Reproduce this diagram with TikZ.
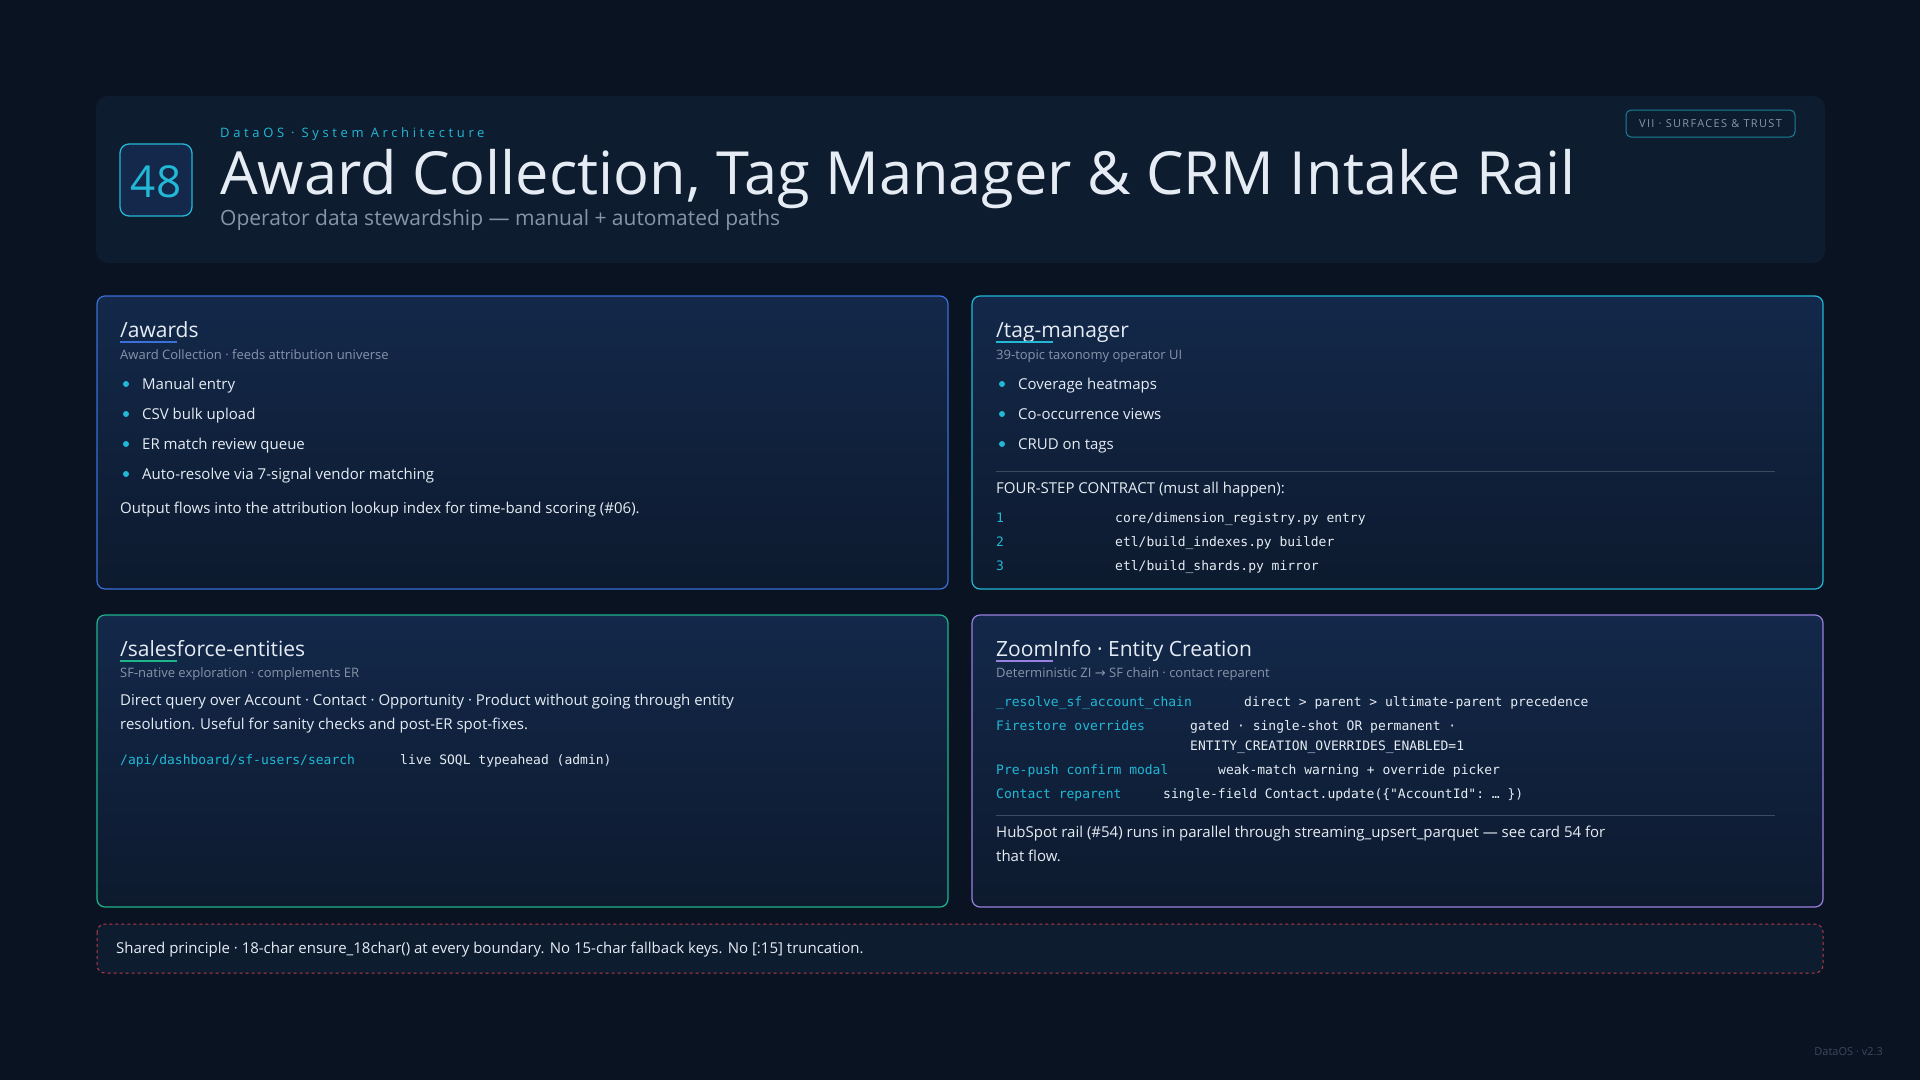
\documentclass[tikz,border=0pt]{standalone}
\usepackage{fontspec}
\setmainfont{Open Sans}
\setmonofont{DejaVu Sans Mono}
\newfontfamily\spaced[LetterSpace=28]{Open Sans}
\newfontfamily\spacedb[LetterSpace=12]{Open Sans}
\newfontfamily\djvsym{DejaVu Sans}
\usetikzlibrary{shadings}
\definecolor{bg}{HTML}{0A1322}
\definecolor{panel}{HTML}{0E1C30}
\definecolor{cardtop}{HTML}{13284A}
\definecolor{cardbot}{HTML}{0D1A2E}
\definecolor{cyanA}{HTML}{22B8D6}
\definecolor{blueB}{HTML}{3B6FD9}
\definecolor{greenB}{HTML}{1FB58A}
\definecolor{purpB}{HTML}{9A80E0}
\definecolor{txt}{HTML}{E6ECF4}
\definecolor{sub}{HTML}{8695AA}
\definecolor{redD}{HTML}{B83A4B}
\tikzset{
 t/.style={anchor=base west,inner sep=0,text=txt,font=\fontsize{15}{18}\selectfont},
 s/.style={anchor=base west,inner sep=0,text=sub,font=\fontsize{13}{16}\selectfont},
 h/.style={anchor=base west,inner sep=0,text=txt,font=\fontsize{21}{25}\selectfont},
 m/.style={anchor=base west,inner sep=0,text=txt,font=\ttfamily\fontsize{13}{16}\selectfont},
 mc/.style={m,text=cyanA},
 card/.style={draw=#1,line width=1.2pt,rounded corners=8pt,top color=cardtop,bottom color=cardbot},
 dot/.style={circle,fill=cyanA,inner sep=0,minimum size=6pt},
}
\begin{document}
\begin{tikzpicture}[x=1pt,y=-1pt]
\fill[bg] (0,0) rectangle (1920,1080);
\useasboundingbox (0,0) rectangle (1920,1080);
% header
\fill[panel,rounded corners=12pt] (96,96) rectangle (1825,263);
\draw[cyanA,line width=1.3pt,rounded corners=9pt,fill=cardtop] (120,144) rectangle (192,216);
\node[anchor=center,text=cyanA,font=\fontsize{44}{48}\selectfont] (num) at (156,182) {48};
\node[anchor=base west,inner sep=0,text=cyanA,font=\spaced\fontsize{13}{15}\selectfont] (kick) at (220,137) {DataOS · System Architecture};
\node[anchor=base west,inner sep=0,text=txt,font=\fontsize{59.5}{62}\selectfont] (title) at (220,194) {Award Collection, Tag Manager \& CRM Intake Rail};
\node[anchor=base west,inner sep=0,text=sub,font=\fontsize{21}{25}\selectfont] (subt) at (220,225) {Operator data stewardship — manual + automated paths};
\draw[cyanA!70!black,line width=1pt,rounded corners=5pt] (1626,110) rectangle (1795,137);
\node[anchor=center,text=sub,font=\spacedb\fontsize{11}{12}\selectfont] (badge) at (1710.5,124) {VII · SURFACES \& TRUST};
% cards
\draw[card=blueB] (97,296) rectangle (948,589);
\draw[card=cyanA] (972,296) rectangle (1823,589);
\draw[card=greenB] (97,615) rectangle (948,907);
\draw[card=purpB] (972,615) rectangle (1823,907);
% card 1
\node[h] (a1) at (120,337) {/awards};
\draw[blueB,line width=1.5pt] (120,342) -- (177,342);
\node[s] (a2) at (120,359) {Award Collection · feeds attribution universe};
\foreach \y/\l in {389/Manual entry,419/CSV bulk upload,449/ER match review queue,479/Auto-resolve via 7-signal vendor matching}{
 \node[dot] at (126,\y-5) {}; \node[t] at (142,\y) {\l};}
\node[t] (a3) at (120,513) {Output flows into the attribution lookup index for time-band scoring (\#06).};
% card 2
\node[h] (b1) at (996,337) {/tag-manager};
\draw[cyanA,line width=1.5pt] (996,342) -- (1053,342);
\node[s] (b2) at (996,359) {39-topic taxonomy operator UI};
\foreach \y/\l in {389/Coverage heatmaps,419/Co-occurrence views,449/CRUD on tags}{
 \node[dot] at (1002,\y-5) {}; \node[t] at (1018,\y) {\l};}
\draw[sub!40!cardbot,line width=0.8pt] (996,471) -- (1775,471);
\node[t] (b3) at (996,493) {FOUR-STEP CONTRACT (must all happen):};
\node[mc] (n1) at (996,522) {1}; \node[m] (s1) at (1115,522) {core/dimension\_registry.py entry};
\node[mc] (n2) at (996,546) {2}; \node[m] (s2) at (1115,546) {etl/build\_indexes.py builder};
\node[mc] (n3) at (996,570) {3}; \node[m] (s3) at (1115,570) {etl/build\_shards.py mirror};
% card 3
\node[h] (c1) at (120,656) {/salesforce-entities};
\draw[greenB,line width=1.5pt] (120,661) -- (177,661);
\node[s] (c2) at (120,677) {SF-native exploration · complements ER};
\node[t] (c3) at (120,705) {Direct query over Account · Contact · Opportunity · Product without going through entity};
\node[t] (c4) at (120,729) {resolution. Useful for sanity checks and post-ER spot-fixes.};
\node[mc] (c5) at (120,764) {/api/dashboard/sf-users/search};
\node[m] (c6) at (400,764) {live SOQL typeahead (admin)};
% card 4
\node[h] (d1) at (996,656) {ZoomInfo · Entity Creation};
\draw[purpB,line width=1.5pt] (996,661) -- (1053,661);
\node[s] (d2) at (996,677) {Deterministic ZI {\djvsym→} SF chain · contact reparent};
\node[mc] at (996,706) {\_resolve\_sf\_account\_chain};
\node[m] at (1244,706) {direct > parent > ultimate-parent precedence};
\node[mc] at (996,730) {Firestore overrides};
\node[m] at (1190,730) {gated · single-shot OR permanent ·};
\node[m] at (1190,750) {ENTITY\_CREATION\_OVERRIDES\_ENABLED=1};
\node[mc] at (996,774) {Pre-push confirm modal};
\node[m] at (1218,774) {weak-match warning + override picker};
\node[mc] at (996,798) {Contact reparent};
\node[m] at (1163,798) {single-field Contact.update(\{"AccountId": … \})};
\draw[sub!40!cardbot,line width=0.8pt] (996,815) -- (1775,815);
\node[t] (d3) at (996,837) {HubSpot rail (\#54) runs in parallel through streaming\_upsert\_parquet — see card 54 for};
\node[t] (d4) at (996,861) {that flow.};
% footer
\draw[redD,dashed,line width=1pt,rounded corners=8pt,fill=panel] (97,924) rectangle (1823,973);
\node[t] (f1) at (116,953) {Shared principle · 18-char ensure\_18char() at every boundary. No 15-char fallback keys. No [:15] truncation.};
\node[anchor=base east,inner sep=0,text=sub!40!bg,font=\fontsize{11}{13}\selectfont] (ver) at (1883,1055) {DataOS · v2.3};
\end{tikzpicture}
\end{document}
